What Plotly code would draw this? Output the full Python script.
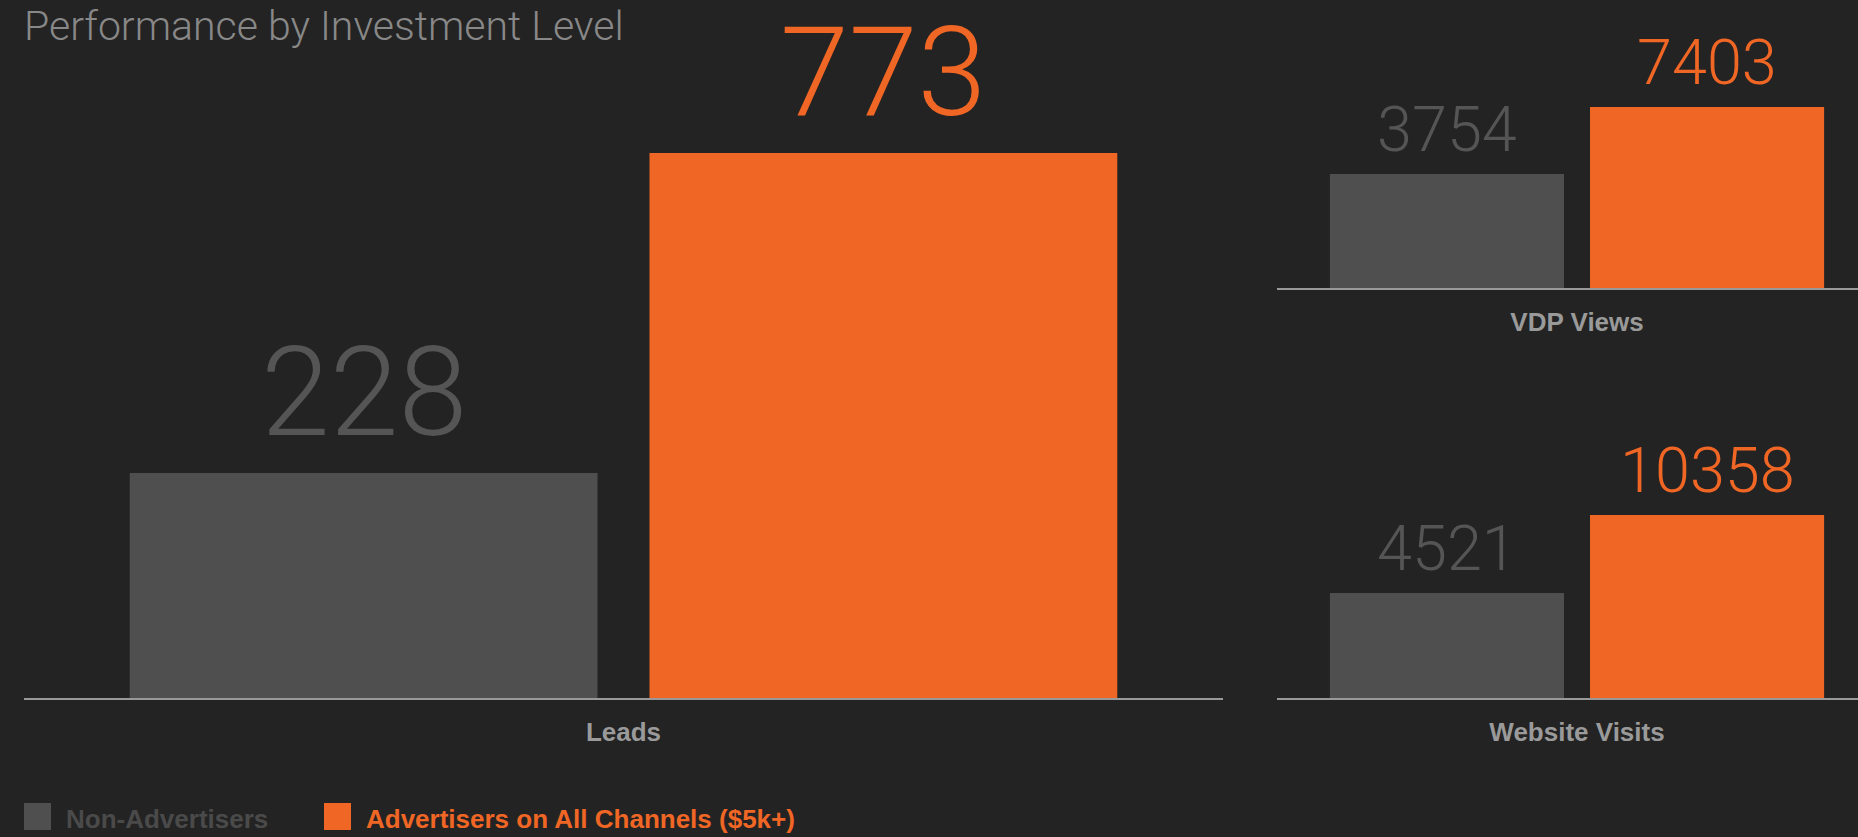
import math
import plotly.graph_objects as go

# ---- data ----
categories = ["Leads", "VDP Views", "Website Visits"]
series_names = ["Non-Advertisers", "Advertisers on All Channels ($5k+)"]
non_advertisers = [228, 3754, 4521]
advertisers = [773, 7403, 10358]
title_text = "Performance by Investment Level"

# ---- style ----
BG = "#232323"
GRAY = "#4f4f4f"
GRAY_TXT = "#555555"
ORANGE = "#f06625"
AXIS = "#999999"
LABEL = "#9a9a9a"
W, H = 1858, 837
BARGAP = 0.133
BARGROUPGAP = 0.10


def px_x(v):
    return v / W


def px_y(v):  # pixel from top -> paper fraction
    return (H - v) / H


panels = [
    dict(xd=[px_x(24), px_x(1223)], xr=[-0.5, 0.5], yd=[px_y(698), 1.0],
         yr=[1.985, 3.1418], fs=124, shift=6),
    dict(xd=[px_x(1277), 1.0], xr=[-0.5, 0.4683], yd=[px_y(288), 1.0],
         yr=[3.0727, 4.3403], fs=63, shift=6),
    dict(xd=[px_x(1277), 1.0], xr=[-0.5, 0.4683], yd=[px_y(698), px_y(380)],
         yr=[3.1704, 4.6385], fs=63, shift=6),
]

VALUE_FONT = "Roboto, Open Sans, sans-serif"
LABEL_FONT = "Liberation Sans, Arial, sans-serif"

fig = go.Figure()
half = (1 - BARGAP) / 4  # centre offset of each bar in a 2-bar group
for i, cat in enumerate(categories):
    sfx = "" if i == 0 else str(i + 1)
    series = [
        (series_names[0], non_advertisers, GRAY, GRAY_TXT, -half),
        (series_names[1], advertisers, ORANGE, ORANGE, half),
    ]
    for name, vals, col, tcol, off in series:
        fig.add_trace(go.Bar(
            x=[cat], y=[vals[i]], name=name,
            marker=dict(color=col, line=dict(width=0)),
            xaxis="x" + sfx, yaxis="y" + sfx, showlegend=False,
            hovertemplate=name + "<br>%{x}: %{y}<extra></extra>",
        ))
        fig.add_annotation(
            text=str(vals[i]), xref="x" + sfx, yref="y" + sfx,
            x=off, y=math.log10(vals[i]),
            xanchor="center", yanchor="bottom", showarrow=False,
            yshift=panels[i]["shift"],
            font=dict(family=VALUE_FONT, size=panels[i]["fs"], color=tcol, weight=300),
        )

layout = dict(
    width=W, height=H, template="none",
    paper_bgcolor=BG, plot_bgcolor=BG,
    margin=dict(l=0, r=0, t=0, b=0),
    barmode="group", bargap=BARGAP, bargroupgap=BARGROUPGAP,
    showlegend=False,
)
for i, p in enumerate(panels):
    sfx = "" if i == 0 else str(i + 1)
    layout["xaxis" + sfx] = dict(
        domain=p["xd"], range=p["xr"], type="category",
        anchor="y" + sfx, showline=True, linecolor=AXIS, linewidth=2,
        showgrid=False, zeroline=False, ticks="", automargin=False,
        tickfont=dict(family=LABEL_FONT, size=26, color=LABEL, weight="bold"),
        ticklabelstandoff=10, fixedrange=True,
    )
    layout["yaxis" + sfx] = dict(
        domain=p["yd"], range=p["yr"], type="log", anchor="x" + sfx,
        visible=False, showgrid=False, zeroline=False, automargin=False,
        fixedrange=True,
    )

fig.update_layout(**layout)

# title
fig.add_annotation(
    text=title_text, xref="paper", yref="paper", x=px_x(22), y=1.0,
    xanchor="left", yanchor="top", showarrow=False,
    font=dict(family=VALUE_FONT, size=41, color="#888888", weight=300),
)

# custom legend
legend_items = [
    (series_names[0], GRAY, "#4a4a4a", 24, 64),
    (series_names[1], ORANGE, ORANGE, 324, 364),
]
for name, col, tcol, sx, tx in legend_items:
    fig.add_shape(type="rect", xref="paper", yref="paper",
                  x0=px_x(sx), x1=px_x(sx + 27), y0=px_y(830), y1=px_y(803),
                  fillcolor=col, line=dict(width=0))
    fig.add_annotation(text=name, xref="paper", yref="paper", x=px_x(tx), y=px_y(818.5),
                       xanchor="left", yanchor="middle", showarrow=False,
                       font=dict(family=LABEL_FONT, size=26, color=tcol, weight="bold"))

fig.write_html(
    "out.html",
    config={"displayModeBar": False},
    post_script="document.body.style.margin='0';document.body.style.overflow='hidden';",
)
